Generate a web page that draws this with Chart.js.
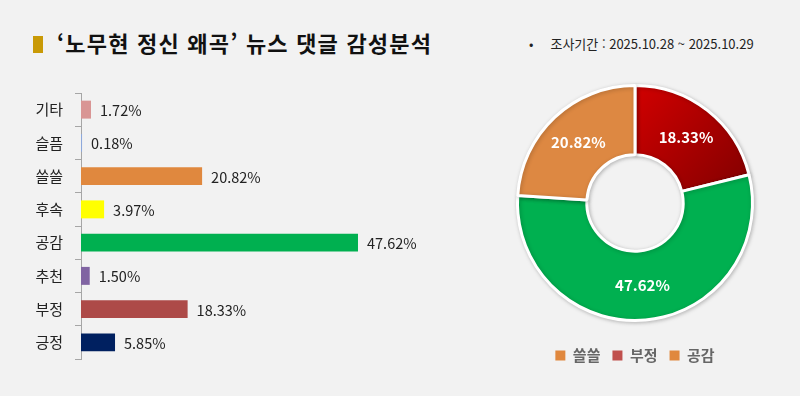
<!DOCTYPE html>
<html lang="ko">
<head>
<meta charset="utf-8">
<script src="https://cdn.jsdelivr.net/npm/chart.js@4"></script>
<style>
  body { margin: 0; width: 800px; height: 396px; background: #f2f2f2; overflow: hidden;
         font-family: "Noto Sans CJK KR", "Noto Sans", sans-serif; }
  #title { position: absolute; left: 33px; top: 26px; font-size: 22px; font-weight: bold; color: #111; letter-spacing: 1.2px; }
  #title span.mark { display: inline-block; width: 10px; height: 17px; background: #c99a06; margin-right: 14px; vertical-align: -1px; }
  #period { position: absolute; left: 529px; top: 34px; font-size: 13px; color: #222; }
  #period b { font-weight: normal; margin-right: 17px; }
  #bar { position: absolute; left: 0; top: 72px; }
  #donut { position: absolute; left: 500px; top: 78px; }
</style>
</head>
<body>
<div id="title"><span class="mark"></span>‘노무현 정신 왜곡’ 뉴스 댓글 감성분석</div>
<div id="period"><b>•</b>조사기간 : 2025.10.28 ~ 2025.10.29</div>
<canvas id="bar" width="440" height="308"></canvas>
<canvas id="donut" width="270" height="295"></canvas>
<script>
/* 막대 그래프 데이터 */
const barLabels = ["기타", "슬픔", "쓸쓸", "후속", "공감", "추천", "부정", "긍정"];
const barValues = [1.72, 0.18, 20.82, 3.97, 47.62, 1.50, 18.33, 5.85];
const barColors = ["#d99594", "#8ea9db", "#e0883e", "#ffff00", "#00b050", "#8064a2", "#ad4a48", "#002060"];

/* 도넛 데이터 */
const donutLabels = ["부정", "공감", "쓸쓸"];
const donutValues = [18.33, 47.62, 20.82];
const legendLabels = ["쓸쓸", "부정", "공감"];
const legendColors = ["#e0883e", "#c0504d", "#e0883e"];

const fontFam = '"Noto Sans CJK KR", "Noto Sans", sans-serif';

/* 값 표시 */
const valueLabels = {
    id: "valueLabels",
    afterDatasetsDraw(chart, args, opts) {
        const ctx = chart.ctx;
        const meta = chart.getDatasetMeta(0);
        ctx.save();
        ctx.font = opts.font;
        ctx.fillStyle = opts.color;
        ctx.textBaseline = "middle";
        meta.data.forEach((el, i) => {
            const txt = chart.data.datasets[0].data[i].toFixed(2) + "%";
            if (opts.mode === "bar") {
                ctx.textAlign = "left";
                ctx.fillText(txt, el.x + 9, el.y + 1);
            } else {
                const p = el.getCenterPoint();
                ctx.textAlign = "center";
                ctx.fillText(txt, p.x, p.y);
            }
        });
        ctx.restore();
    }
};

/* 도넛 그림자 */
const donutShadow = {
    id: "donutShadow",
    beforeDatasetsDraw(chart) {
        const ctx = chart.ctx;
        ctx.save();
        ctx.shadowColor = "rgba(0,0,0,0.22)";
        ctx.shadowBlur = 4;
        ctx.shadowOffsetX = 1;
        ctx.shadowOffsetY = 1;
    },
    afterDatasetsDraw(chart) {
        chart.ctx.restore();
    }
};

new Chart(document.getElementById("bar"), {
    type: "bar",
    data: {
        labels: barLabels,
        datasets: [{
            data: barValues,
            backgroundColor: barColors,
            barPercentage: 0.54,
            categoryPercentage: 1
        }]
    },
    options: {
        indexAxis: "y",
        responsive: false,
        animation: false,
        layout: { padding: { top: 10, bottom: 14, right: 10 } },
        plugins: {
            legend: { display: false },
            tooltip: { enabled: false },
            valueLabels: { mode: "bar", font: "14.5px " + fontFam, color: "#222" }
        },
        scales: {
            x: { display: false, min: 0, max: 60 },
            y: {
                afterFit(scale) { scale.width = 81; },
                border: { color: "#a6a6a6" },
                grid: { drawOnChartArea: false, color: "#a6a6a6", tickLength: 6 },
                ticks: { padding: 12, color: "#222", font: { size: 15, family: fontFam } }
            }
        }
    },
    plugins: [valueLabels]
});

new Chart(document.getElementById("donut"), {
    type: "doughnut",
    data: {
        labels: donutLabels,
        datasets: [{
            data: donutValues,
            backgroundColor(c) {
                const i = c.dataIndex;
                if (i === 1) return "#00b050";
                if (i === 2) return "#dd8842";
                const area = c.chart.chartArea;
                if (!area) return "#b00000";
                const g = c.chart.ctx.createLinearGradient(area.left + area.width / 2, area.top, area.right, area.top + area.height / 2);
                g.addColorStop(0, "#d20000");
                g.addColorStop(1, "#750000");
                return g;
            },
            borderColor: "#ffffff",
            borderWidth: 3
        }]
    },
    options: {
        responsive: false,
        animation: false,
        cutout: "41%",
        layout: { padding: { top: 6 } },
        plugins: {
            tooltip: { enabled: false },
            legend: {
                position: "bottom",
                title: { display: true, text: " ", font: { size: 10 }, padding: { top: 2, bottom: 0 } },
                labels: {
                    boxWidth: 10,
                    boxHeight: 10,
                    padding: 12,
                    color: "#595959",
                    font: { size: 15, weight: "bold", family: fontFam },
                    generateLabels() {
                        return legendLabels.map((t, i) => ({
                            text: t,
                            fillStyle: legendColors[i],
                            strokeStyle: legendColors[i],
                            lineWidth: 0,
                            index: i
                        }));
                    }
                }
            },
            valueLabels: { mode: "arc", font: "bold 15px " + fontFam, color: "#ffffff" }
        }
    },
    plugins: [donutShadow, valueLabels]
});
</script>
</body>
</html>
